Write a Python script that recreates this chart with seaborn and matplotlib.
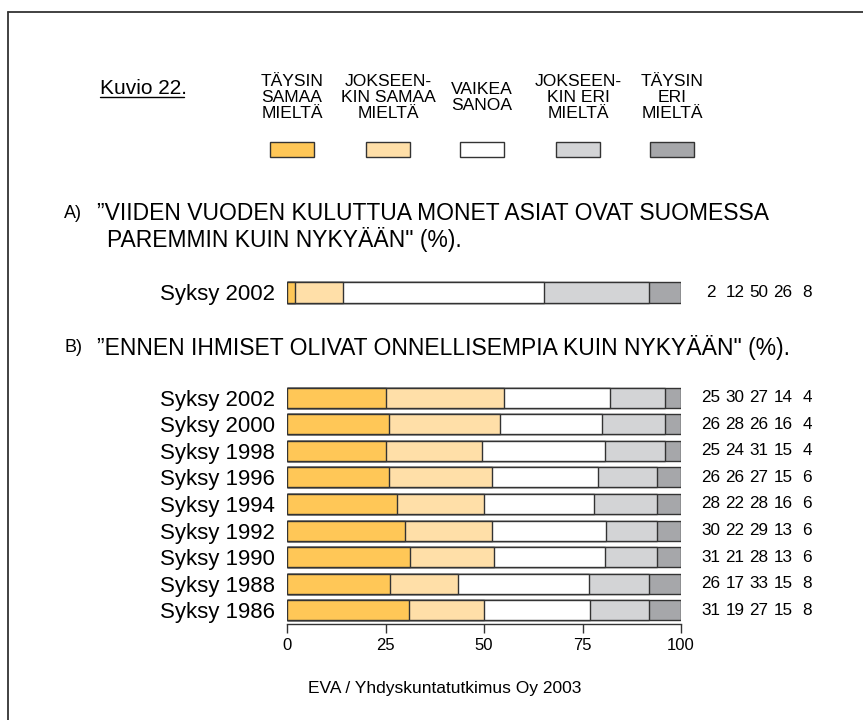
import matplotlib
matplotlib.use('Agg')
import matplotlib.pyplot as plt
import pandas as pd
import seaborn as sns
from matplotlib import font_manager
from matplotlib.patches import Rectangle
from matplotlib.lines import Line2D

# luokat ja värit
luokat = ['TÄYSIN\nSAMAA\nMIELTÄ', 'JOKSEEN-\nKIN SAMAA\nMIELTÄ', 'VAIKEA\nSANOA',
          'JOKSEEN-\nKIN ERI\nMIELTÄ', 'TÄYSIN\nERI\nMIELTÄ']
varit = ['#FFC757', '#FFDFA8', '#FFFFFF', '#D3D4D6', '#A6A7AA']

# A) kysymys
a_rivit = ['Syksy 2002']
a_taysin_samaa = [2]
a_jokseenkin_samaa = [12]
a_vaikea = [50]
a_jokseenkin_eri = [26]
a_taysin_eri = [8]

# B) kysymys
b_rivit = ['Syksy 2002', 'Syksy 2000', 'Syksy 1998', 'Syksy 1996', 'Syksy 1994',
           'Syksy 1992', 'Syksy 1990', 'Syksy 1988', 'Syksy 1986']
b_taysin_samaa = [25, 26, 25, 26, 28, 30, 31, 26, 31]
b_jokseenkin_samaa = [30, 28, 24, 26, 22, 22, 21, 17, 19]
b_vaikea = [27, 26, 31, 27, 28, 29, 28, 33, 27]
b_jokseenkin_eri = [14, 16, 15, 15, 16, 13, 13, 15, 15]
b_taysin_eri = [4, 4, 4, 6, 6, 6, 6, 8, 8]

sns.set_style('white')
plt.rcParams['font.family'] = ['Liberation Sans', 'DejaVu Sans']
plt.rcParams['text.color'] = 'black'
plt.rcParams['xtick.color'] = 'black'
plt.rcParams['ytick.color'] = 'black'

# kapea fontti selitteelle, jos löytyy
nimet = {f.name for f in font_manager.fontManager.ttflist}
if 'Liberation Sans Narrow' in nimet:
    kapea, kapea_koko = ['Liberation Sans Narrow', 'DejaVu Sans'], 14.5
else:
    kapea, kapea_koko = ['Liberation Sans', 'DejaVu Sans'], 12.6

W, H = 863, 720
fig = plt.figure(figsize=(W / 100, H / 100), dpi=100)


def fx(px):
    return px / W


def fy(py):
    return 1 - py / H


def pinottu(ax, rivit, sarakkeet):
    df = pd.DataFrame({j: s for j, s in enumerate(sarakkeet)}, index=rivit)
    pct = df.div(df.sum(axis=1), axis=0) * 100
    cum = pct.cumsum(axis=1)
    for j in reversed(range(len(sarakkeet))):
        d = pd.DataFrame({'rivi': rivit, 'x': cum[j].values})
        sns.barplot(data=d, x='x', y='rivi', orient='h', color=varit[j],
                    saturation=1, width=0.75, edgecolor='#333333',
                    linewidth=1.0, ax=ax)
    for i in range(len(rivit)):
        for j in range(len(sarakkeet)):
            ax.text(107.6 + 6.1 * j, i, str(df.iloc[i, j]), ha='center',
                    va='center', fontsize=12.3, clip_on=False)
    ax.set_xlim(0, 100)
    ax.set_xlabel('')
    ax.set_ylabel('')
    ax.tick_params(axis='y', length=0, pad=9, labelsize=16)
    for s in ['top', 'right', 'left']:
        ax.spines[s].set_visible(False)


# A-kuvaaja
axA = fig.add_axes([fx(287), fy(306), 394 / W, 28 / H])
pinottu(axA, a_rivit, [a_taysin_samaa, a_jokseenkin_samaa, a_vaikea,
                       a_jokseenkin_eri, a_taysin_eri])
axA.spines['bottom'].set_visible(False)
axA.set_xticks([])

# B-kuvaaja
axB = fig.add_axes([fx(287), fy(623.5), 394 / W, 239 / H])
pinottu(axB, b_rivit, [b_taysin_samaa, b_jokseenkin_samaa, b_vaikea,
                       b_jokseenkin_eri, b_taysin_eri])
axB.set_xticks([0, 25, 50, 75, 100])
axB.spines['bottom'].set_color('#333333')
axB.spines['bottom'].set_linewidth(1.0)
axB.tick_params(axis='x', direction='out', length=6.5, width=1.0,
                color='#333333', labelsize=12, pad=4, bottom=True)

# selite
selite_x = [292, 388, 482, 578, 672]
for x, teksti, vari in zip(selite_x, luokat, varit):
    fig.text(fx(x), fy(97.5), teksti, ha='center', va='center',
             fontsize=kapea_koko, family=kapea, linespacing=1.1,
             multialignment='center')
    fig.add_artist(Rectangle((fx(x - 22), fy(157)), 44 / W, 15 / H,
                             facecolor=vari, edgecolor='#333333', lw=1.0,
                             transform=fig.transFigure))

# otsikot
fig.text(fx(100), fy(88), 'Kuvio 22.', ha='left', va='center', fontsize=15)
fig.add_artist(Line2D([fx(100), fx(184)], [fy(97), fy(97)], color='black',
                      lw=1.0, transform=fig.transFigure))

fig.text(fx(64), fy(213), 'A)', ha='left', va='center', fontsize=13)
fig.text(fx(97), fy(213), '”VIIDEN VUODEN KULUTTUA MONET ASIAT OVAT SUOMESSA',
         ha='left', va='center', fontsize=16.5)
fig.text(fx(107), fy(240), 'PAREMMIN KUIN NYKYÄÄN" (%).', ha='left',
         va='center', fontsize=16.5)
fig.text(fx(64), fy(347), 'B)', ha='left', va='center', fontsize=13)
fig.text(fx(97), fy(347), '”ENNEN IHMISET OLIVAT ONNELLISEMPIA KUIN NYKYÄÄN" (%).',
         ha='left', va='center', fontsize=16.5)

fig.text(fx(445), fy(688), 'EVA / Yhdyskuntatutkimus Oy 2003', ha='center',
         va='center', fontsize=12.5)

# kehys
fig.add_artist(Line2D([fx(8), 1], [fy(12), fy(12)], color='#333333', lw=1.3,
                      transform=fig.transFigure))
fig.add_artist(Line2D([fx(8), fx(8)], [0, fy(12)], color='#333333', lw=1.3,
                      transform=fig.transFigure))

fig.savefig('out.png', dpi=100)
